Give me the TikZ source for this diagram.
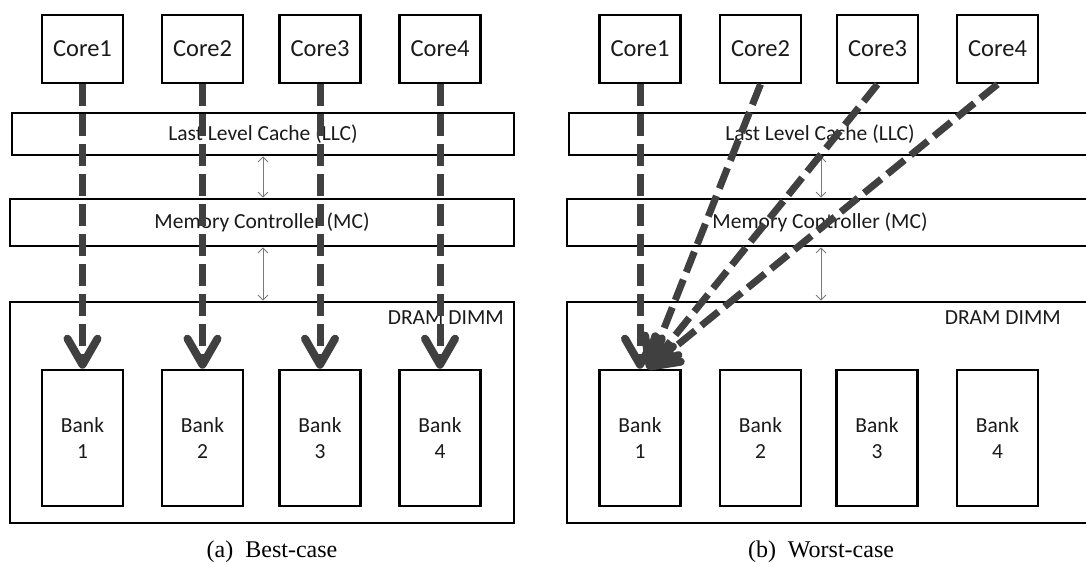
\documentclass[tikz,border=0pt]{standalone}
\usepackage{fontspec}
\setmainfont{Carlito}
\newfontfamily\capfont{Liberation Serif}
\usetikzlibrary{arrows.meta,calc}
\definecolor{flowgray}{HTML}{404040}
\definecolor{linkgray}{HTML}{7A7A7A}
\definecolor{txt}{HTML}{1A1A1A}
\tikzset{
  box/.style={draw=black, line width=2.6pt, rectangle, inner sep=0pt, text=txt},
  corebox/.style={box, minimum width=81pt, minimum height=68pt, font=\fontsize{24.5}{28}\selectfont},
  bankbox/.style={box, minimum width=81pt, minimum height=136pt, align=center, font=\fontsize{21.5}{26}\selectfont},
  barbox/.style={box, font=\fontsize{21.5}{26}\selectfont},
  lbl/.style={inner sep=0pt, text=txt, font=\fontsize{21.5}{26}\selectfont},
  caption/.style={inner sep=0pt, text=black, font=\capfont\fontsize{24}{28}\selectfont},
  flow/.style={draw=flowgray, line width=7pt, dash pattern=on 22pt off 8pt,
    -{Straight Barb[length=26pt,width=30pt,line width=8pt,round]}},
  link/.style={draw=linkgray, line width=0.9pt,
    {Straight Barb[length=5pt,width=10pt]}-{Straight Barb[length=5pt,width=10pt]}}
}
\begin{document}
\begin{tikzpicture}[x=1pt,y=-1pt]
\clip (0,0) rectangle (1086,563);
\fill[white] (0,0) rectangle (1086,563);

% ---------------- (a) Best-case ----------------
\node[corebox] (ac1) at (82.5,49) {Core1};
\node[corebox] (ac2) at (202.5,49) {Core2};
\node[corebox] (ac3) at (320,49) {Core3};
\node[corebox] (ac4) at (440,49) {Core4};
\node[barbox, minimum width=502pt, minimum height=42pt] (allc) at (263,134) {Last Level Cache (LLC)};
\node[barbox, minimum width=504pt, minimum height=47pt] (amc) at (262,222.5) {Memory Controller (MC)};
\node[box, minimum width=504pt, minimum height=221pt] (adimm) at (262,412.5) {};
\node[lbl, anchor=east] (adimml) at (504,318) {DRAM DIMM};
\node[bankbox] (ab1) at (82.5,438) {Bank\\1};
\node[bankbox] (ab2) at (202.5,438) {Bank\\2};
\node[bankbox] (ab3) at (320,438) {Bank\\3};
\node[bankbox] (ab4) at (440,438) {Bank\\4};
\coordinate (ax) at (263,0);
\draw[link] (allc.south -| ax) -- (amc.north -| ax);
\draw[link] (amc.south -| ax) -- (adimm.north -| ax);
\draw[flow] (ac1.south) -- (ab1.north);
\draw[flow] (ac2.south) -- (ab2.north);
\draw[flow] (ac3.south) -- (ab3.north);
\draw[flow] (ac4.south) -- (ab4.north);
\node[caption] (acap) at (272,552) {(a)\hspace{0.5em}Best-case};

% ---------------- (b) Worst-case ----------------
\node[corebox] (bc1) at (640,49) {Core1};
\node[corebox] (bc2) at (760.5,49) {Core2};
\node[corebox] (bc3) at (877.5,49) {Core3};
\node[corebox] (bc4) at (997.5,49) {Core4};
\node[box, minimum width=540pt, minimum height=42pt] (bllc) at (839,134) {};
\node[box, minimum width=542pt, minimum height=47pt] (bmc) at (838,222.5) {};
\node[lbl] (bllcl) at (820,134) {Last Level Cache (LLC)};
\node[lbl] (bmcl) at (820,222.5) {Memory Controller (MC)};
\node[box, minimum width=542pt, minimum height=221pt] (bdimm) at (838,412.5) {};
\node[lbl, anchor=east] (bdimml) at (1061,318) {DRAM DIMM};
\node[bankbox] (bb1) at (640,438) {Bank\\1};
\node[bankbox] (bb2) at (760.5,438) {Bank\\2};
\node[bankbox] (bb3) at (877,438) {Bank\\3};
\node[bankbox] (bb4) at (997.5,438) {Bank\\4};
\coordinate (bx) at (821,0);
\draw[link] (bllc.south -| bx) -- (bmc.north -| bx);
\draw[link] (bmc.south -| bx) -- (bdimm.north -| bx);
\coordinate (hit) at (648,369);
\draw[flow] (bc4.south) -- (hit);
\draw[flow] (bc3.south) -- (hit);
\draw[flow] (bc2.south) -- (hit);
\draw[flow] (bc1.south) -- (bb1.north);
\node[caption] (bcap) at (821,552) {(b)\hspace{0.5em}Worst-case};
\end{tikzpicture}
\end{document}
